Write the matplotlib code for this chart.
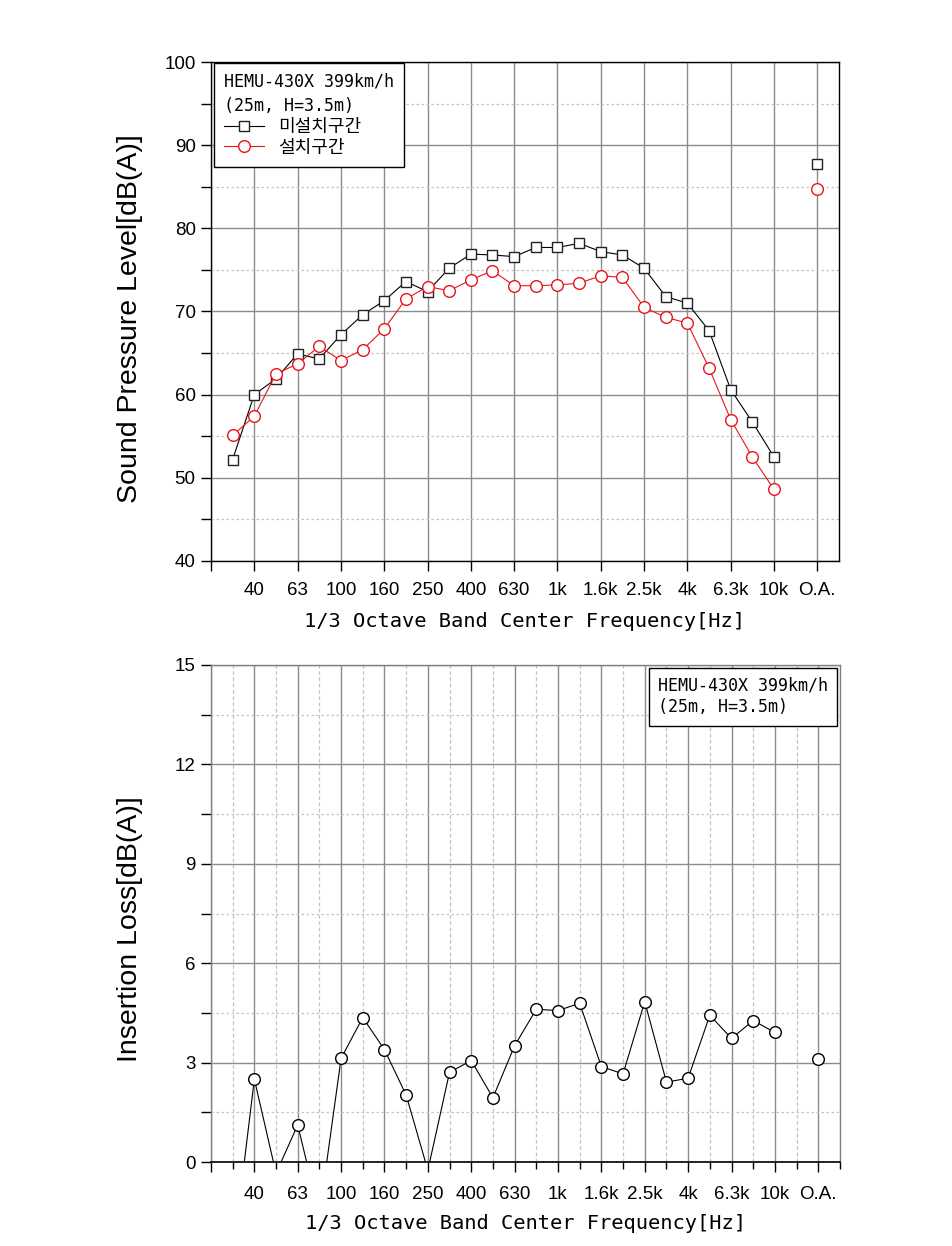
import matplotlib
matplotlib.use('Agg')
import matplotlib.pyplot as plt
import numpy as np
from matplotlib.ticker import FixedLocator, MultipleLocator

plt.rcParams['font.family'] = ['Liberation Sans', 'DejaVu Sans']
plt.rcParams['axes.unicode_minus'] = False

# 1/3 octave bands (31.5 Hz .. 10 kHz) plus overall level
bands = ['31.5', '40', '50', '63', '80', '100', '125', '160', '200', '250', '315',
         '400', '500', '630', '800', '1k', '1.25k', '1.6k', '2k', '2.5k', '3.15k',
         '4k', '5k', '6.3k', '8k', '10k']
oa_label = 'O.A.'

# untreated section (미설치구간) and treated section (설치구간), dB(A)
spl_untreated = [52.2, 60.0, 61.9, 64.9, 64.3, 67.2, 69.6, 71.3, 73.6, 72.4, 75.2,
                 76.9, 76.8, 76.6, 77.7, 77.7, 78.2, 77.2, 76.8, 75.2, 71.8,
                 71.0, 67.7, 60.6, 56.7, 52.5]
spl_treated = [55.1, 57.4, 62.5, 63.7, 65.8, 64.1, 65.4, 67.9, 71.5, 73.0, 72.5,
               73.8, 74.9, 73.1, 73.1, 73.2, 73.4, 74.3, 74.1, 70.5, 69.3,
               68.6, 63.2, 57.0, 52.5, 48.6]
oa_untreated = 87.7
oa_treated = 84.7

# insertion loss, dB(A)
insertion_loss = [-2.9, 2.5, -0.34, 1.12, -1.6, 3.13, 4.36, 3.39, 2.02, -0.25, 2.71,
                  3.06, 1.94, 3.51, 4.61, 4.57, 4.79, 2.88, 2.66, 4.84, 2.41,
                  2.53, 4.43, 3.73, 4.27, 3.91]
oa_insertion_loss = 3.10

legend_title = 'HEMU-430X 399km/h\n(25m, H=3.5m)'
x_label = '1/3 Octave Band Center Frequency[Hz]'

# positions: band i at index i+1, O.A. two slots after last band
x = np.arange(1, len(bands) + 1)
x_oa = len(bands) + 2
x_max = len(bands) + 3
major_pos = list(range(2, len(bands) + 1, 2)) + [x_oa]
major_lab = bands[1::2] + [oa_label]

GRID_MAJ = '#8c8c8c'
GRID_MIN = '#c4c4c4'
RED = '#e8141c'
MONO = ['DejaVu Sans Mono', 'Noto Sans CJK KR']

fig = plt.figure(figsize=(9.52, 12.46), dpi=100)
ax1 = fig.add_axes([0.2216, 0.5498, 0.6597, 0.4004])
ax2 = fig.add_axes([0.2216, 0.0674, 0.6607, 0.3989])

# ---------------- top: sound pressure level ----------------
ax1.plot(x, spl_untreated, '-', color='black', lw=0.8, marker='s', ms=7.8,
         mfc='white', mec='#222222', mew=1.0, label='미설치구간', zorder=3)
ax1.plot(x, spl_treated, '-', color=RED, lw=0.8, marker='o', ms=8.4,
         mfc='white', mec=RED, mew=1.0, label='설치구간', zorder=3)
ax1.plot([x_oa], [oa_untreated], 's', ms=7.8, mfc='white', mec='#222222', mew=1.0, zorder=3)
ax1.plot([x_oa], [oa_treated], 'o', ms=8.4, mfc='white', mec=RED, mew=1.0, zorder=3)

ax1.set_xlim(0, x_max)
ax1.set_ylim(40, 100)
ax1.xaxis.set_major_locator(FixedLocator([0] + major_pos))
ax1.set_xticklabels([''] + major_lab)
ax1.yaxis.set_major_locator(MultipleLocator(10))
ax1.yaxis.set_minor_locator(MultipleLocator(5))
ax1.set_axisbelow(True)
ax1.grid(axis='x', which='major', color=GRID_MAJ, lw=1.0)
ax1.grid(axis='y', which='major', color=GRID_MAJ, lw=1.0)
ax1.grid(axis='y', which='minor', color=GRID_MIN, lw=0.9, ls=(0, (2, 2)))
ax1.tick_params(axis='both', which='both', direction='out', length=7, width=1,
                labelsize=13.5)
ax1.tick_params(axis='x', pad=8)
ax1.tick_params(axis='y', pad=4)
for s in ax1.spines.values():
    s.set_color('black')
    s.set_linewidth(1.0)

ax1.set_ylabel('Sound Pressure Level[dB(A)]', fontsize=20.5)
ax1.yaxis.set_label_coords(-0.108, 0.485)
ax1.set_xlabel(x_label, fontsize=14.7, family=MONO, va='top')
ax1.xaxis.set_label_coords(0.5, -0.102)

leg = ax1.legend(loc='upper left', bbox_to_anchor=(0.005, 0.998), borderaxespad=0,
                 title=legend_title, alignment='left', fancybox=False,
                 edgecolor='black', framealpha=1, handlelength=2.2,
                 handletextpad=0.8, labelspacing=0.15, borderpad=0.55,
                 prop={'family': MONO, 'size': 13},
                 title_fontproperties={'family': MONO, 'size': 12})
leg.get_title().set_linespacing(1.45)
leg.get_frame().set_linewidth(1.0)

# ---------------- bottom: insertion loss ----------------
ax2.plot(x, insertion_loss, '-', color='black', lw=0.8, marker='o', ms=8.4,
         mfc='white', mec='black', mew=1.0, zorder=3)
ax2.plot([x_oa], [oa_insertion_loss], 'o', ms=8.4, mfc='white', mec='black', mew=1.0, zorder=3)

ax2.set_xlim(0, x_max)
ax2.set_ylim(0, 15)
ax2.xaxis.set_major_locator(FixedLocator([0] + major_pos))
ax2.set_xticklabels([''] + major_lab)
ax2.xaxis.set_minor_locator(FixedLocator(list(range(1, x_max + 1, 2))))
ax2.yaxis.set_major_locator(MultipleLocator(3))
ax2.yaxis.set_minor_locator(MultipleLocator(1.5))
ax2.set_axisbelow(True)
ax2.grid(axis='x', which='major', color=GRID_MAJ, lw=1.0)
ax2.grid(axis='x', which='minor', color=GRID_MIN, lw=0.9, ls=(0, (3, 2)))
ax2.grid(axis='y', which='major', color=GRID_MAJ, lw=1.0)
ax2.grid(axis='y', which='minor', color=GRID_MIN, lw=0.9, ls=(0, (2, 2)))
ax2.tick_params(axis='both', which='both', direction='out', length=7, width=1,
                labelsize=13.5)
ax2.tick_params(axis='x', which='minor', length=5)
ax2.tick_params(axis='x', pad=10)
ax2.tick_params(axis='y', pad=4)
for name, s in ax2.spines.items():
    s.set_color('black' if name == 'bottom' else '#808080')
    s.set_linewidth(1.2 if name == 'bottom' else 1.0)

ax2.set_ylabel('Insertion Loss[dB(A)]', fontsize=20.5)
ax2.yaxis.set_label_coords(-0.108, 0.469)
ax2.set_xlabel(x_label, fontsize=14.7, family=MONO, va='top')
ax2.xaxis.set_label_coords(0.5, -0.105)

ax2.text(0.7107, 0.976, legend_title, transform=ax2.transAxes, ha='left', va='top',
         family=MONO, fontsize=12, linespacing=1.25, zorder=5,
         bbox=dict(boxstyle='square,pad=0.55', fc='white', ec='black', lw=1.0))

fig.savefig('out.png', dpi=100, facecolor='white')
